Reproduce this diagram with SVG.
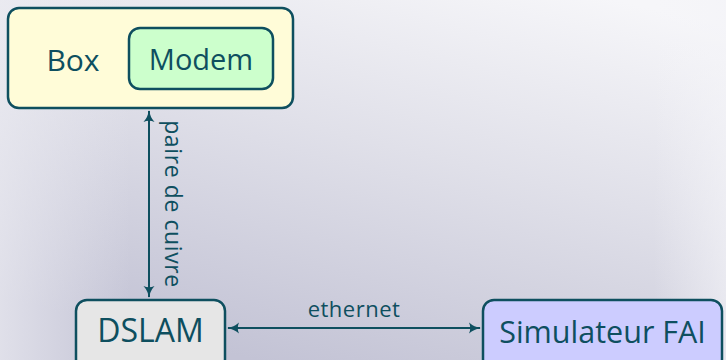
<svg xmlns="http://www.w3.org/2000/svg" width="726" height="360" viewBox="0 0 726 360">
<defs>
<linearGradient id="bg" x1="0.85" y1="0" x2="0.35" y2="1">
<stop offset="0" stop-color="#f6f6f9"/>
<stop offset="0.45" stop-color="#e0e0e9"/>
<stop offset="1" stop-color="#c3c3d5"/>
</linearGradient>
<linearGradient id="bgl" x1="0" y1="0" x2="1" y2="0">
<stop offset="0" stop-color="#ececf2" stop-opacity="0.7"/>
<stop offset="0.18" stop-color="#ececf2" stop-opacity="0"/>
<stop offset="0.9" stop-color="#f4f4f8" stop-opacity="0"/>
<stop offset="1" stop-color="#f4f4f8" stop-opacity="0.6"/>
</linearGradient>
<marker id="ah" viewBox="0 0 14 14" refX="12" refY="7" markerWidth="14" markerHeight="14" markerUnits="userSpaceOnUse" orient="auto-start-reverse">
<path d="M1,1.5 Q6,6 13,7 Q6,8 1,12.5 Q3.5,7 1,1.5 Z" fill="#0e4f5f"/>
</marker>
<style>
.n{stroke:#0e4f5f;stroke-width:2.5}
.t{font-family:"Open Sans","DejaVu Sans",sans-serif;fill:#0e4f5f}
.c{stroke:#0e4f5f;stroke-width:2;fill:none}
</style>
</defs>
<rect width="726" height="360" fill="url(#bg)"/>
<rect width="726" height="360" fill="url(#bgl)"/>

<g id="box">
<rect class="n" x="8" y="8" width="285" height="100" rx="11" fill="#fffcd8"/>
<text class="t" x="73" y="71" font-size="30" text-anchor="middle">Box</text>
</g>
<g id="modem">
<rect class="n" x="129" y="28" width="144" height="61" rx="11" fill="#ccffcc"/>
<text class="t" x="201" y="70" font-size="29" text-anchor="middle">Modem</text>
</g>
<g id="dslam">
<rect class="n" x="76" y="300" width="149" height="70" rx="11" fill="#e6e6e6"/>
<text class="t" x="150.5" y="342" font-size="32" text-anchor="middle">DSLAM</text>
</g>
<g id="fai">
<rect class="n" x="483" y="300" width="239" height="70" rx="11" fill="#ccccff"/>
<text class="t" x="602.5" y="343" font-size="30.5" text-anchor="middle">Simulateur FAI</text>
</g>

<g id="connectors">
<line class="c" x1="149" y1="111" x2="149" y2="297" marker-start="url(#ah)" marker-end="url(#ah)"/>
<text class="t" font-size="23" letter-spacing="0.6" text-anchor="middle" transform="translate(165,204) rotate(90)">paire de cuivre</text>
<line class="c" x1="228" y1="328" x2="480" y2="328" marker-start="url(#ah)" marker-end="url(#ah)"/>
<text class="t" x="354" y="317" font-size="22" letter-spacing="0.5" text-anchor="middle">ethernet</text>
</g>
</svg>
